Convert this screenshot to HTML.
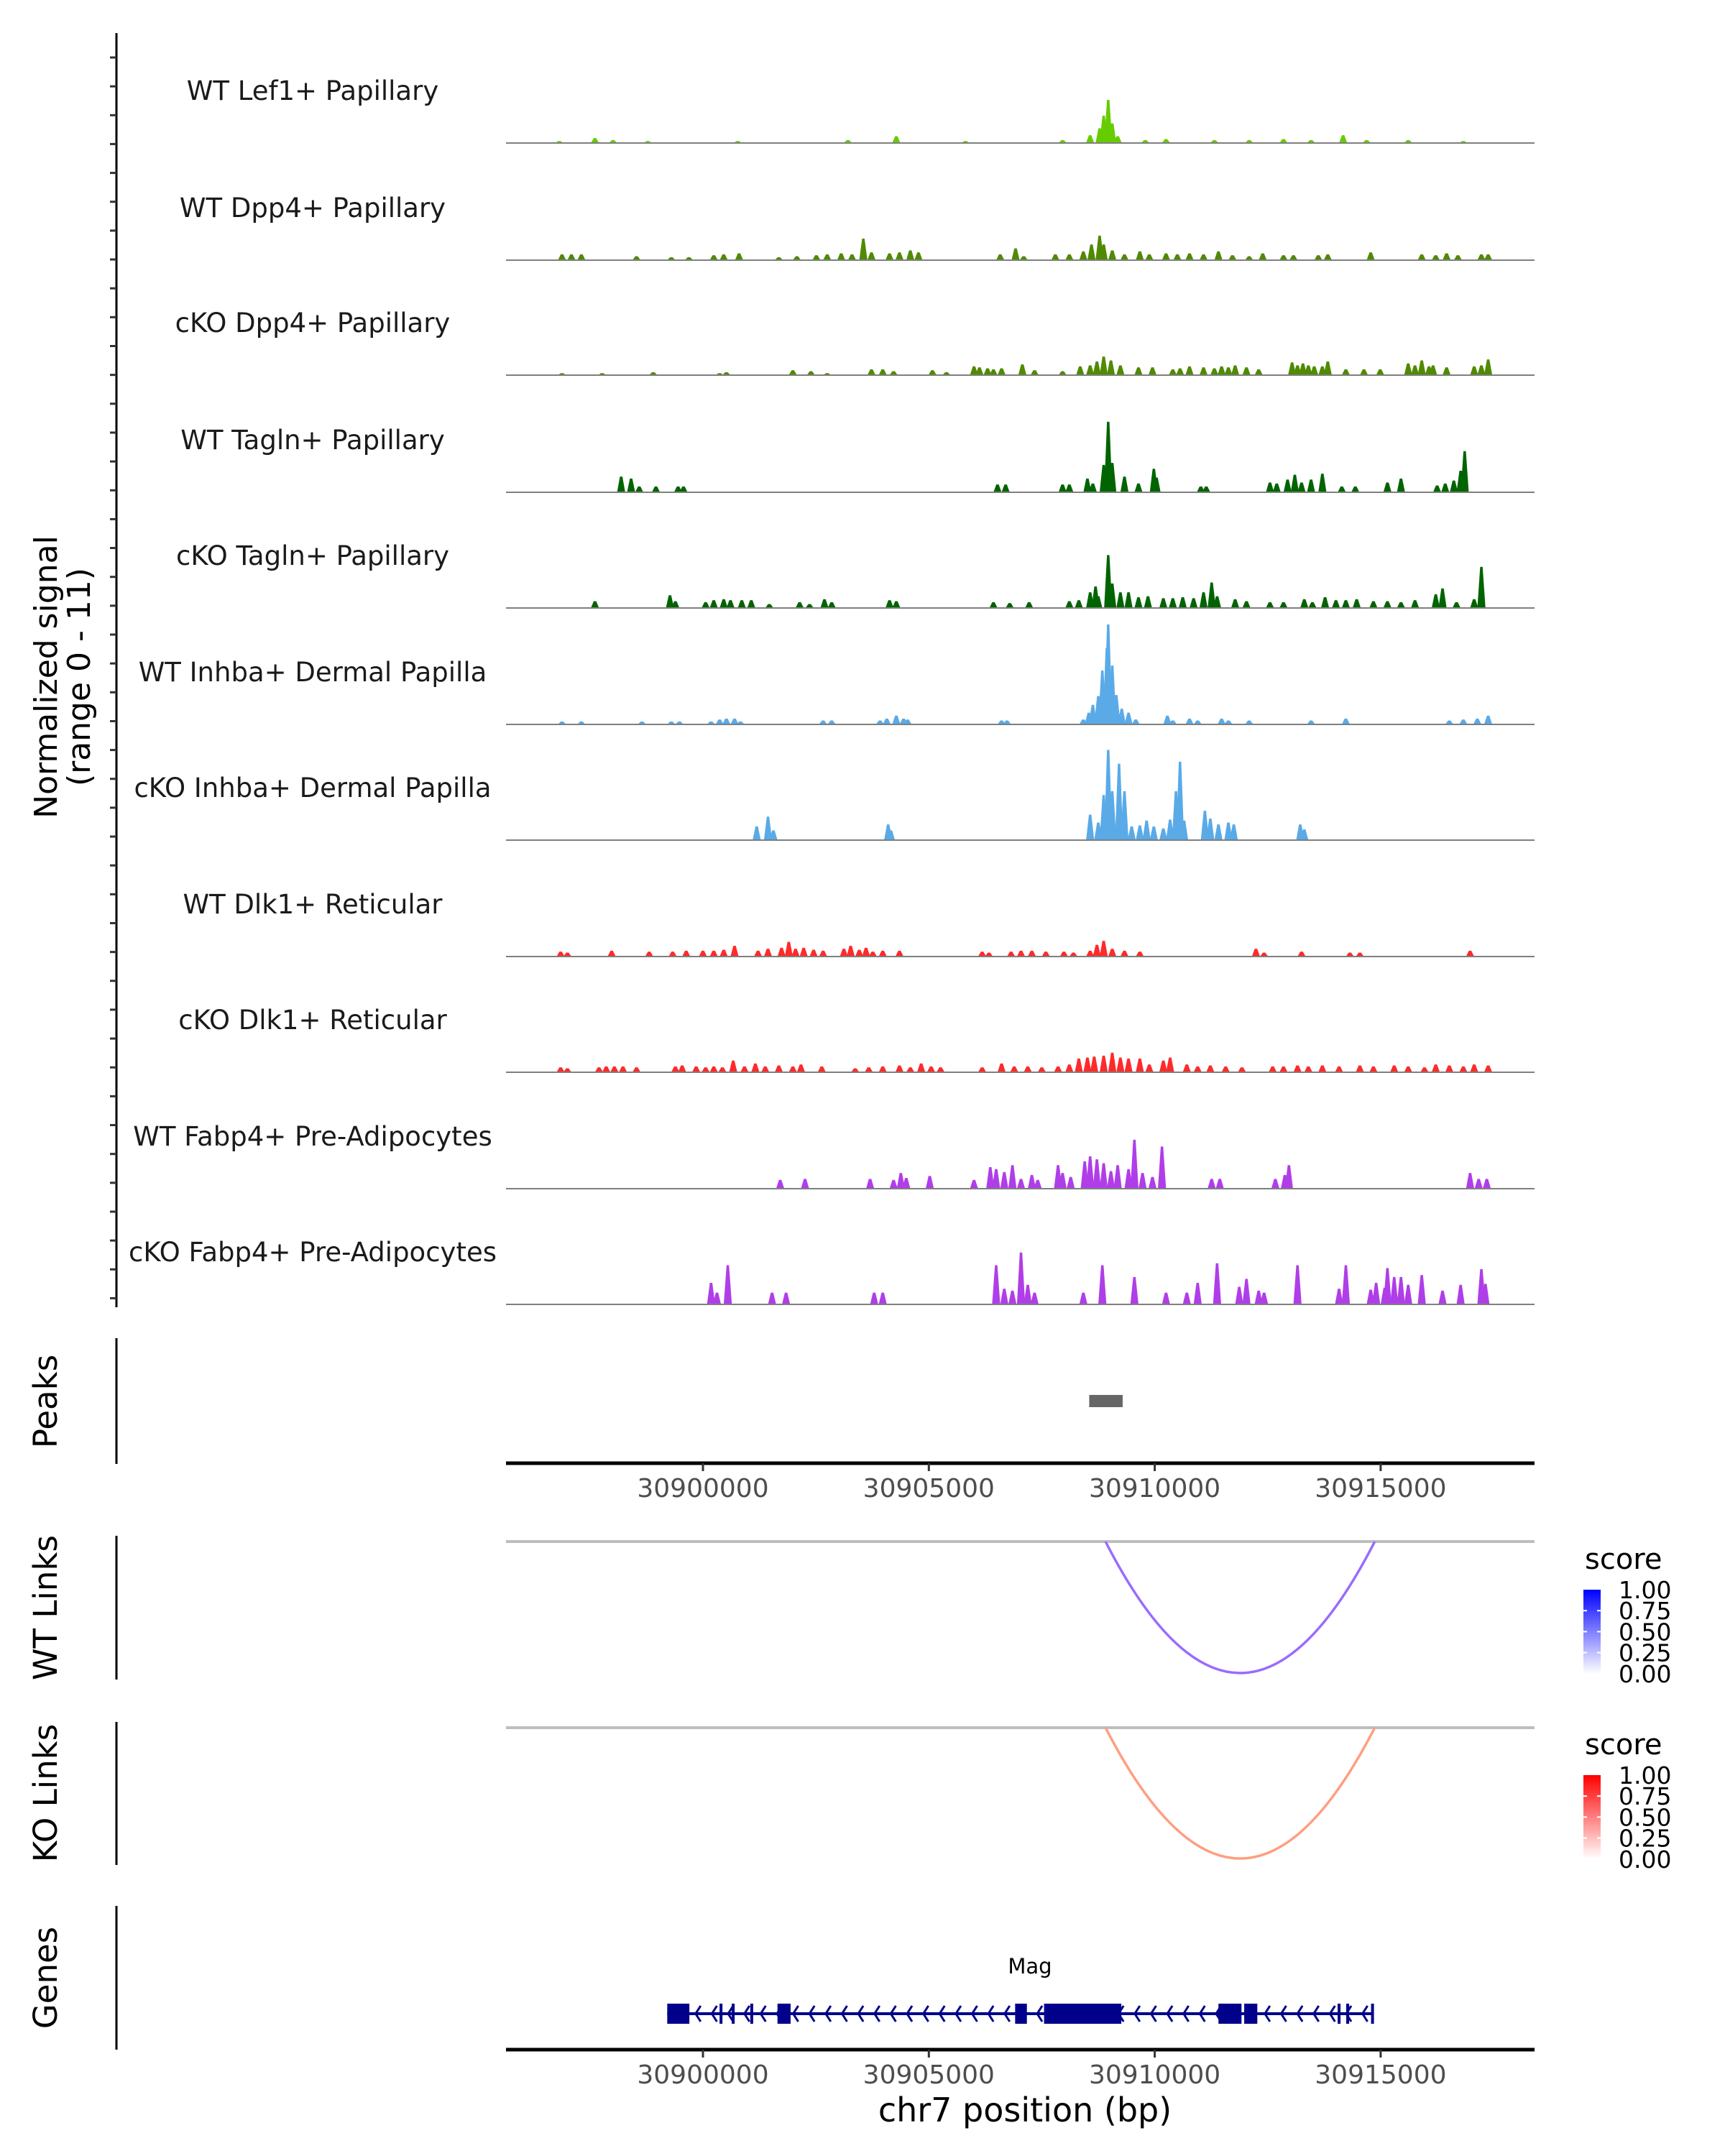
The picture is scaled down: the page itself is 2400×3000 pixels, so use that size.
<!DOCTYPE html>
<html><head><meta charset="utf-8"><style>
html,body{margin:0;padding:0;background:#fff;}
svg{display:block;font-family:"DejaVu Sans","Liberation Sans",sans-serif;}
</style></head><body>
<svg id="chart" width="2400" height="3000" viewBox="0 0 2400 3000" xmlns="http://www.w3.org/2000/svg"></svg>
<script>
// ---- data (positions in kb relative to chr7:30,900,000; values = normalized signal) ----
const trackNames = ["WT Lef1+ Papillary","WT Dpp4+ Papillary","cKO Dpp4+ Papillary","WT Tagln+ Papillary","cKO Tagln+ Papillary","WT Inhba+ Dermal Papilla","cKO Inhba+ Dermal Papilla","WT Dlk1+ Reticular","cKO Dlk1+ Reticular","WT Fabp4+ Pre-Adipocytes","cKO Fabp4+ Pre-Adipocytes"];
const trackColors = ["#66cc00","#4f8a00","#4f8a00","#006400","#006400","#5aaae8","#5aaae8","#ff2a2a","#ff2a2a","#b03ee8","#b03ee8"];
const lef1WT = [[-3.18,.2],[-2.39,.5],[-1.99,.3],[-1.22,.2],[.77,.2],[3.21,.3],[4.28,.7],[5.81,.2],[7.96,.3],[8.57,.8],[8.78,1.5],[8.87,2.8],[8.97,4.4],[9.06,2],[9.18,.7],[9.79,.3],[10.25,.4],[11.32,.3],[12.09,.3],[12.85,.4],[13.46,.3],[14.17,.8],[14.69,.3],[15.61,.3],[16.83,.2]];
const dpp4WT = [[-3.12,.6],[-2.91,.6],[-2.69,.6],[-1.47,.4],[-.70,.3],[-.31,.3],[.24,.5],[.46,.6],[.80,.7],[1.68,.3],[2.08,.4],[2.51,.5],[2.75,.6],[3.06,.7],[3.30,.6],[3.55,2.2],[3.73,.8],[4.13,.7],[4.35,.8],[4.59,1.0],[4.77,.8],[6.58,.6],[6.92,1.2],[7.10,.4],[7.80,.6],[8.11,.6],[8.42,.9],[8.60,1.6],[8.78,2.5],[8.87,1.6],[9.06,1.0],[9.33,.6],[9.67,.9],[9.88,.6],[10.25,.7],[10.50,.6],[10.77,.7],[11.08,.6],[11.41,.9],[11.72,.5],[12.09,.4],[12.39,.7],[12.85,.5],[13.07,.5],[13.62,.5],[13.83,.6],[14.78,.8],[15.91,.6],[16.22,.5],[16.46,.7],[16.71,.5],[17.23,.6],[17.38,.6]];
const dpp4KO = [[-3.12,.2],[-2.23,.2],[-1.10,.3],[.37,.2],[.52,.3],[1.99,.5],[2.39,.4],[2.75,.2],[3.73,.6],[3.98,.6],[4.22,.4],[5.08,.5],[5.39,.3],[6.0,.9],[6.12,.8],[6.30,.7],[6.43,.6],[6.61,.7],[7.07,1.1],[7.34,.5],[7.96,.4],[8.35,.9],[8.57,1.0],[8.72,1.4],[8.87,1.9],[9.03,1.5],[9.24,1.0],[9.64,.8],[9.95,.8],[10.40,.6],[10.56,.7],[10.77,.9],[11.08,.8],[11.32,.7],[11.48,.9],[11.63,.8],[11.78,1.0],[12.03,.8],[12.30,.6],[13.04,1.3],[13.16,1.0],[13.28,1.2],[13.40,1.0],[13.53,.9],[13.71,.9],[13.83,1.4],[14.23,.6],[14.63,.6],[14.99,.6],[15.61,1.2],[15.76,1.0],[15.91,1.5],[16.07,.9],[16.16,1.0],[16.46,.8],[17.07,.9],[17.23,1.0],[17.38,1.6]];
const taglnWT = [[-1.81,1.6],[-1.59,1.4],[-1.41,.6],[-1.04,.6],[-.55,.6],[-.43,.6],[6.52,.8],[6.70,.8],[7.96,.8],[8.11,.8],[8.51,1.4],[8.63,.9],[8.87,2.8],[8.97,7.2],[9.06,3],[9.33,1.6],[9.64,.9],[9.98,2.4],[10.04,1.5],[11.02,.6],[11.14,.6],[12.55,1.0],[12.70,.9],[12.94,1.3],[13.10,1.8],[13.25,1.0],[13.46,1.3],[13.71,1.9],[14.14,.6],[14.44,.6],[15.15,1.0],[15.45,1.4],[16.25,.7],[16.43,.9],[16.62,1.2],[16.77,2.2],[16.86,4.2]];
const taglnKO = [[-2.39,.7],[-.73,1.3],[-.61,.7],[.06,.6],[.24,.8],[.46,.9],[.61,.8],[.86,.8],[1.07,.8],[1.47,.4],[2.14,.6],[2.36,.4],[2.69,.9],[2.85,.6],[4.13,.8],[4.28,.7],[6.43,.6],[6.79,.5],[7.22,.6],[8.11,.7],[8.32,.8],[8.57,1.6],[8.69,2.2],[8.75,1.2],[8.97,5.4],[9.06,2.5],[9.24,1.6],[9.42,1.6],[9.64,1.1],[9.85,1.2],[10.19,1.0],[10.40,1.0],[10.62,1.1],[10.86,1.0],[11.08,1.6],[11.26,2.6],[11.38,1.2],[11.78,.9],[12.03,.7],[12.55,.6],[12.85,.6],[13.31,.9],[13.49,.6],[13.77,1.1],[14.01,.8],[14.23,.8],[14.47,.9],[14.84,.7],[15.15,.7],[15.45,.6],[15.76,.8],[16.22,1.4],[16.37,2.0],[16.68,.6],[17.07,.9],[17.23,4.2]];
const inhbaWT = [[-3.12,.3],[-2.69,.3],[-1.35,.3],[-.70,.3],[-.52,.3],[.18,.3],[.37,.5],[.52,.6],[.70,.6],[.83,.3],[2.66,.4],[2.85,.4],[3.92,.4],[4.07,.6],[4.28,.9],[4.44,.6],[4.53,.5],[6.61,.4],[6.73,.4],[8.42,.5],[8.54,1.2],[8.63,2.0],[8.75,2.9],[8.84,5.5],[8.94,7.8],[8.97,10.2],[9.06,6],[9.15,3],[9.27,1.6],[9.42,1.2],[9.58,.5],[10.28,.9],[10.40,.4],[10.77,.6],[10.95,.4],[11.48,.6],[11.63,.4],[12.09,.4],[13.46,.4],[14.23,.6],[16.52,.4],[16.83,.5],[17.14,.6],[17.38,.9]];
const inhbaKO = [[1.19,1.4],[1.44,2.4],[1.56,1.0],[4.10,1.6],[4.16,1.0],[8.57,2.6],[8.75,1.8],[8.87,4.6],[8.97,9.2],[9.06,5],[9.21,7.8],[9.33,5],[9.49,1.4],[9.67,1.5],[9.82,2.0],[9.98,1.4],[10.19,1.2],[10.34,2.1],[10.47,5.0],[10.56,8.0],[10.65,2.0],[11.11,3.0],[11.23,2.2],[11.41,1.6],[11.63,1.8],[11.75,1.6],[13.22,1.6],[13.31,1.1]];
const dlk1WT = [[-3.15,.5],[-3.0,.4],[-2.02,.6],[-1.19,.5],[-.67,.5],[-.37,.6],[0,.6],[.24,.6],[.46,.7],[.70,1.1],[1.22,.6],[1.44,.8],[1.74,.9],[1.90,1.5],[2.05,.8],[2.23,.9],[2.45,.7],[2.66,.6],[3.12,.8],[3.27,1.1],[3.46,.7],[3.61,.9],[3.76,.5],[3.98,.6],[4.35,.6],[6.18,.5],[6.33,.4],[6.82,.5],[7.04,.6],[7.28,.6],[7.59,.5],[7.99,.5],[8.20,.4],[8.57,.6],[8.72,1.2],[8.87,1.6],[9.06,.8],[9.33,.6],[9.67,.5],[12.24,.8],[12.42,.4],[13.25,.5],[14.32,.4],[14.54,.4],[16.98,.6]];
const dlk1KO = [[-3.15,.5],[-3.0,.4],[-2.30,.5],[-2.14,.6],[-1.96,.6],[-1.77,.6],[-1.47,.5],[-.61,.6],[-.46,.7],[-.15,.6],[.06,.5],[.24,.6],[.43,.5],[.67,1.2],[.92,.6],[1.16,.9],[1.38,.6],[1.68,.7],[1.99,.6],[2.17,.8],[2.63,.6],[3.37,.4],[3.67,.5],[3.98,.6],[4.35,.7],[4.59,.5],[4.83,.9],[5.05,.6],[5.26,.5],[6.18,.5],[6.61,.9],[6.89,.6],[7.19,.6],[7.50,.5],[7.86,.6],[8.11,.8],[8.32,1.4],[8.51,1.5],[8.66,1.6],[8.87,1.7],[9.06,2.0],[9.24,1.5],[9.42,1.4],[9.67,1.4],[9.88,.8],[10.19,1.2],[10.34,1.5],[10.71,.8],[10.95,.6],[11.23,.7],[11.57,.6],[11.93,.5],[12.61,.6],[12.85,.6],[13.16,.7],[13.40,.6],[13.71,.7],[14.08,.6],[14.54,.7],[14.84,.6],[15.30,.7],[15.61,.6],[15.97,.5],[16.22,.8],[16.52,.7],[16.83,.6],[17.07,.8],[17.38,.7]];
const fabp4WT = [[1.71,.9],[2.26,1.0],[3.70,1.0],[4.22,.9],[4.38,1.6],[4.50,1.1],[5.02,1.3],[6.0,.9],[6.36,2.2],[6.49,2.0],[6.67,1.7],[6.85,2.4],[7.04,1.0],[7.28,1.4],[7.41,.9],[7.86,2.4],[7.96,1.6],[8.14,1.2],[8.45,2.8],[8.57,3.3],[8.72,3.0],[8.87,2.6],[9.03,1.8],[9.18,2.4],[9.42,2.0],[9.55,5.0],[9.73,1.6],[9.95,1.2],[10.16,4.3],[11.26,1.0],[11.44,1.0],[12.67,1.0],[12.88,1.4],[12.97,2.4],[16.98,1.6],[17.17,1.0],[17.35,1.0]];
const fabp4KO = [[.18,2.2],[.31,1.2],[.55,4.0],[1.53,1.2],[1.84,1.2],[3.79,1.2],[3.98,1.2],[6.49,4.0],[6.67,1.6],[6.85,1.4],[7.04,5.3],[7.19,2.0],[7.34,1.2],[8.42,1.2],[8.84,4.0],[9.55,2.8],[10.25,1.2],[10.71,1.2],[10.95,2.2],[11.38,4.2],[11.87,1.8],[12.03,2.6],[12.30,1.4],[12.42,1.2],[13.16,4.0],[14.08,1.6],[14.23,4.0],[14.78,1.5],[14.90,2.2],[15.09,1.7],[15.15,3.7],[15.30,2.8],[15.45,2.8],[15.61,2.0],[15.91,3.0],[16.37,1.4],[16.77,2.0],[17.23,3.6],[17.32,2.1]];
const trackData = [lef1WT,dpp4WT,dpp4KO,taglnWT,taglnKO,inhbaWT,inhbaKO,dlk1WT,dlk1KO,fabp4WT,fabp4KO];
const xTickValues = [30900000,30905000,30910000,30915000];
const peakRanges = [[8.55,9.29]];
const wtLinks = [[8.91,14.87,0.6]];
const koLinks = [[8.91,14.87,0.45]];
const bigExons = [[-0.79,-0.30],[1.65,1.94],[6.91,7.17],[7.55,9.26],[11.41,11.92],[11.98,12.27]];
const thinExons = [0.40,0.67,1.08,14.08,14.27,14.82];
const geneSpan = [-0.79,14.82];
const legendTicks = ["1.00","0.75","0.50","0.25","0.00"];

// ---- scales ----
const NS="http://www.w3.org/2000/svg";
const svg=document.getElementById('chart');
const X0=704, X1=2135, PX5K=314.3, KB0=(704-978)/PX5K*5, KB1=(2135-978)/PX5K*5;
function xs(kb){return X0+(kb-KB0)/(KB1-KB0)*(X1-X0);}
const YMAX=11, TRACKH=150;
const baselines=[199,362,522,685,846,1008,1169,1331,1492,1654,1815];
function ys(v,b){return b-v/YMAX*TRACKH;}
function el(tag,attrs,parent){const e=document.createElementNS(NS,tag);for(const k in attrs)e.setAttribute(k,attrs[k]);(parent||svg).appendChild(e);return e;}
function txt(s,attrs,parent){const e=el('text',attrs,parent);e.textContent=s;return e;}

// left axis for tracks
let ax=el('line',{x1:162,y1:46,x2:162,y2:1819,stroke:'#000','stroke-width':3});


for(let y=80;y<=1815;y+=40.15){const t=el('line',{x1:153,y1:y,x2:162,y2:y,stroke:'#333','stroke-width':3});

}
let yt=txt('',{transform:'translate(87,942) rotate(-90)','text-anchor':'middle','font-size':44,fill:'#000'});


const ts1=el('tspan',{x:0,y:-8},yt);ts1.textContent='Normalized signal';
const ts2=el('tspan',{x:0,y:38},yt);ts2.textContent='(range 0 - 11)';

// tracks
trackData.forEach((pts,i)=>{
  const b=baselines[i];
  const g=el('g',{});
  
  
  const lab=txt(trackNames[i],{x:435,y:b-60,'text-anchor':'middle','font-size':37,fill:'#1a1a1a'},g);
  
  
  const hw=0.09;
  pts.forEach(p=>{
    const xa=xs(p[0]-hw),xb=xs(p[0]-hw*0.3),xc=xs(p[0]+hw*0.3),xd=xs(p[0]+hw),yt=ys(p[1],b);
    const pk=el('polygon',{points:`${xa},${b} ${xb},${yt} ${xc},${yt} ${xd},${b}`,fill:trackColors[i]},g);
    
    
  });
  const bl=el('line',{x1:X0,y1:b,x2:X1,y2:b,stroke:'#7f7f7f','stroke-width':2},g);
  
  
});

// side titles
function sideTitle(s,y,y1,y2,name){
  const l=el('line',{x1:162,y1:y1,x2:162,y2:y2,stroke:'#000','stroke-width':3});
  
  
  const t=txt(s,{transform:`translate(79,${y}) rotate(-90)`,'text-anchor':'middle','font-size':45,fill:'#000'});
  
  
}
sideTitle('Peaks',1950,1862,2037,'peaks');
sideTitle('WT Links',2237,2137,2337,'wt-links');
sideTitle('KO Links',2495,2396,2595,'ko-links');
sideTitle('Genes',2752,2652,2852,'genes');

// peaks
peakRanges.forEach(r=>{const p=el('rect',{x:xs(r[0]),y:1941,width:xs(r[1])-xs(r[0]),height:17,fill:'#666'});

});

function xAxis(y,name){
  const l=el('line',{x1:X0,y1:y,x2:X1,y2:y,stroke:'#000','stroke-width':5});
  
  
  xTickValues.forEach(v=>{const kb=(v-30900000)/1000,x=xs(kb);
    const t=el('line',{x1:x,y1:y,x2:x,y2:y+11,stroke:'#333','stroke-width':3});
    
    
    const tl=txt(String(v),{x:x,y:y+47,'text-anchor':'middle','font-size':36,fill:'#4d4d4d'});
    
    });
}
xAxis(2036,'peaks-x-axis');

// links
function links(data,base,bottom,color,name){
  const bl=el('line',{x1:X0,y1:base,x2:X1,y2:base,stroke:'#bebebe','stroke-width':4});
  
  
  data.forEach(d=>{const a=xs(d[0]),b=xs(d[1]),c=2*bottom-base;
    const p=el('path',{d:`M${a},${base} Q${(a+b)/2},${c} ${b},${base}`,fill:'none',stroke:color,'stroke-width':3.5});
    
    });
}
links(wtLinks,2145,2328,'#9b6bff','wt-link');
links(koLinks,2404,2586,'#ff9e80','ko-link');

// legends
function legend(top,color,id,name){
  const defs=el('defs',{});
  const lg=el('linearGradient',{id:id,x1:0,y1:0,x2:0,y2:1},defs);
  el('stop',{offset:0,'stop-color':color},lg);el('stop',{offset:1,'stop-color':'#fff'},lg);
  const t=txt('score',{x:2205,y:top-29,'font-size':40,fill:'#000'});
  
  
  const r=el('rect',{x:2203,y:top,width:24,height:117,fill:`url(#${id})`});
  
  
  legendTicks.forEach((s,i)=>{const y=top+i*29.2;
    if(i>0&&i<4){el('line',{x1:2203,y1:y,x2:2208,y2:y,stroke:'#fff','stroke-width':2});el('line',{x1:2222,y1:y,x2:2227,y2:y,stroke:'#fff','stroke-width':2});}
    const l=txt(s,{x:2252,y:y+12,'font-size':33,fill:'#000'});
    
    });
}
legend(2212,'#0000ff','gradB','wt-legend');
legend(2470,'#ff0000','gradR','ko-legend');

// gene
const GY=2802;
const gl=el('line',{x1:xs(geneSpan[0]),y1:GY,x2:xs(geneSpan[1]),y2:GY,stroke:'#00008b','stroke-width':4});


for(let kb=geneSpan[0]+0.3;kb<geneSpan[1]-0.1;kb+=0.36){
  const x=xs(kb);
  const c=el('polyline',{points:`${x+5},${GY-11} ${x-2},${GY} ${x+5},${GY+11}`,fill:'none',stroke:'#00008b','stroke-width':3});
  
  
}
bigExons.forEach(e=>{const r=el('rect',{x:xs(e[0]),y:GY-14,width:xs(e[1])-xs(e[0]),height:28,fill:'#00008b'});

});
thinExons.forEach(k=>{const r=el('rect',{x:xs(k)-2,y:GY-14,width:4,height:28,fill:'#00008b'});

});
const gn=txt('Mag',{x:1433,y:2746,'text-anchor':'middle','font-size':29,fill:'#000'});


xAxis(2852,'genes-x-axis');
const xt=txt('chr7 position (bp)',{x:1426,y:2952,'text-anchor':'middle','font-size':46,fill:'#000'});


</script>
</body></html>
